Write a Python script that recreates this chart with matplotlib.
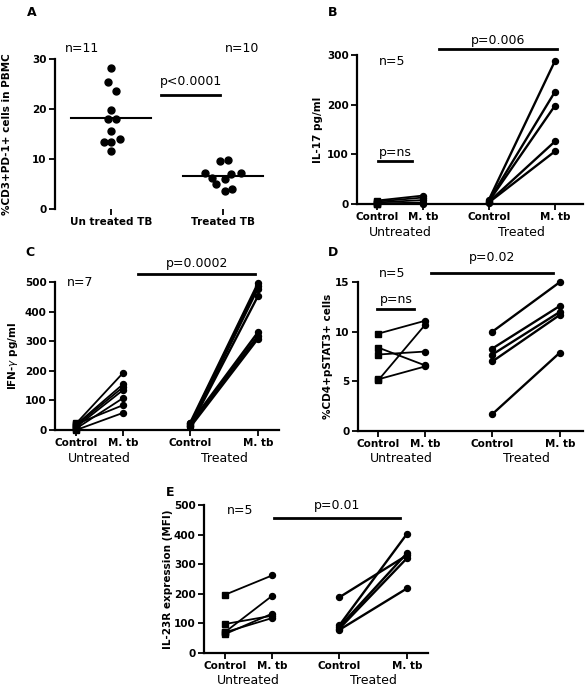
import numpy as np
import matplotlib
matplotlib.use("Agg")
import matplotlib.pyplot as plt

# ---- data ----
# A: %CD3+PD-1+ cells
a_groups = ["Un treated TB", "Treated TB"]
a_untreated = [28.2, 25.5, 23.7, 19.8, 18.0, 18.0, 15.7, 14.0, 13.5, 13.5, 11.6]
a_untreated_dx = [0.0, -0.09, 0.15, 0.0, -0.09, 0.15, 0.0, 0.27, -0.2, 0.0, 0.0]
a_treated = [9.6, 9.8, 7.3, 7.0, 7.3, 6.2, 5.1, 6.0, 3.7, 4.0]
a_treated_dx = [-0.09, 0.15, -0.54, 0.25, 0.52, -0.33, -0.2, 0.05, 0.05, 0.27]
a_median = [18.3, 6.7]

# B: IL-17 pg/ml (n=5)
b_ctrl_u = [7, 5, 3, 1, 0]
b_mtb_u = [17, 13, 8, 3, 1]
b_ctrl_t = [8, 6, 5, 4, 3]
b_mtb_t = [288, 226, 198, 126, 106]

# C: IFN-gamma pg/ml (n=7)
c_ctrl_u = [22, 18, 15, 10, 5, 20, 0]
c_mtb_u = [193, 155, 145, 135, 108, 84, 58]
c_ctrl_t = [25, 20, 15, 12, 22, 18, 10]
c_mtb_t = [495, 488, 478, 452, 330, 318, 308]

# D: %CD4+pSTAT3+ cells (n=5)
d_ctrl_u = [9.8, 8.4, 7.7, 5.1, 5.2]
d_mtb_u = [11.1, 6.6, 8.0, 10.7, 6.5]
d_ctrl_t = [10.0, 8.3, 7.7, 7.0, 1.7]
d_mtb_t = [15.0, 12.6, 12.0, 11.7, 7.9]

# E: IL-23R expression (MFI) (n=5)
e_ctrl_u = [197, 98, 71, 64, 70]
e_mtb_u = [262, 126, 193, 133, 118]
e_ctrl_t = [188, 93, 88, 82, 78]
e_mtb_t = [330, 402, 337, 320, 218]

pair_ticks = ["Control", "M. tb", "Control", "M. tb"]
pair_groups = ["Untreated", "Treated"]
pos = [0, 1, 2.43, 3.87]

W, H = 587, 696
fig = plt.figure(figsize=(W / 100, H / 100), dpi=100)


def box(l, t, r, b):
    return [l / W, 1 - b / H, (r - l) / W, (b - t) / H]


def style(ax, ylabel, label_px, left_px, width_px):
    for s in ["top", "right"]:
        ax.spines[s].set_visible(False)
    for s in ["left", "bottom"]:
        ax.spines[s].set_linewidth(1.6)
    ax.tick_params(width=1.3, length=4, labelsize=7.5, pad=2)
    for lab in ax.get_xticklabels() + ax.get_yticklabels():
        lab.set_fontweight("bold")
    ax.set_ylabel(ylabel, fontsize=7.5, fontweight="bold")
    ax.yaxis.set_label_coords((label_px - left_px) / width_px, 0.5)


def paired(ax, cu, mu, ct, mt, square_ctrl=True):
    for a, b in zip(cu, mu):
        ax.plot([pos[0], pos[1]], [a, b], color="k", lw=1.3, clip_on=False)
    for a, b in zip(ct, mt):
        ax.plot([pos[2], pos[3]], [a, b], color="k", lw=1.7, clip_on=False)
    ax.plot([pos[0]] * len(cu), cu, "s" if square_ctrl else "o", color="k", ms=4.3, clip_on=False)
    ax.plot([pos[1]] * len(mu), mu, "o", color="k", ms=4.3, clip_on=False)
    ax.plot([pos[2]] * len(ct), ct, "o", color="k", ms=4.3, clip_on=False)
    ax.plot([pos[3]] * len(mt), mt, "o", color="k", ms=4.3, clip_on=False)
    ax.set_xticks(pos)
    ax.set_xticklabels(pair_ticks)
    for i, g in enumerate(pair_groups):
        ax.annotate(g, xy=((pos[2 * i] + pos[2 * i + 1]) / 2, 0),
                    xycoords=("data", "axes fraction"), xytext=(0, -28),
                    textcoords="offset pixels", ha="center", va="center", fontsize=9)


def bar(ax, x0, x1, y, text, ty):
    ax.plot([x0, x1], [y, y], color="k", lw=2, clip_on=False)
    ax.text((x0 + x1) / 2, ty, text, ha="center", va="center", fontsize=9, clip_on=False)


# ---- Panel A ----
ax = fig.add_axes(box(55, 59, 278, 209))
ax.plot(np.array(a_untreated_dx) * 0.3, a_untreated, "o", color="k", ms=5, clip_on=False)
ax.plot(1 + np.array(a_treated_dx) * 0.3, a_treated, "o", color="k", ms=5, clip_on=False)
for i, m in enumerate(a_median):
    ax.plot([i - 0.36, i + 0.36], [m, m], color="k", lw=1.5)
ax.set_xlim(-0.5, 1.49)
ax.set_ylim(0, 30)
ax.set_yticks([0, 10, 20, 30])
ax.set_xticks([0, 1])
ax.set_xticklabels(a_groups)
style(ax, "%CD3+PD-1+ cells in PBMC", 12, 55, 223)
ax.spines["bottom"].set_visible(False)
bar(ax, 0.45, 0.97, 22.8, "p<0.0001", 25.6)
ax.text(-0.26, 32.1, "n=11", ha="center", va="center", fontsize=9, clip_on=False)
ax.text(1.17, 32.1, "n=10", ha="center", va="center", fontsize=9, clip_on=False)

# ---- Panel B ----
ax = fig.add_axes(box(357, 55, 583, 204))
paired(ax, b_ctrl_u, b_mtb_u, b_ctrl_t, b_mtb_t)
ax.set_xlim(-0.435, 4.48)
ax.set_ylim(0, 300)
ax.set_yticks([0, 100, 200, 300])
style(ax, "IL-17 pg/ml", 323, 357, 226)
bar(ax, 0.02, 0.76, 86, "p=ns", 104)
bar(ax, 1.35, 3.91, 312, "p=0.006", 330)
ax.text(0.33, 286, "n=5", ha="center", va="center", fontsize=9)

# ---- Panel C ----
ax = fig.add_axes(box(55, 282, 279, 430))
paired(ax, c_ctrl_u, c_mtb_u, c_ctrl_t, c_mtb_t)
ax.set_xlim(-0.45, 4.32)
ax.set_ylim(0, 500)
ax.set_yticks([0, 100, 200, 300, 400, 500])
style(ax, "IFN-$\\gamma$ pg/ml", 20, 55, 224)
bar(ax, 1.32, 3.81, 527, "p=0.0002", 564)
ax.text(0.09, 500, "n=7", ha="center", va="center", fontsize=9)

# ---- Panel D ----
ax = fig.add_axes(box(358, 282, 583, 431))
paired(ax, d_ctrl_u, d_mtb_u, d_ctrl_t, d_mtb_t)
ax.set_xlim(-0.43, 4.36)
ax.set_ylim(0, 15)
ax.set_yticks([0, 5, 10, 15])
style(ax, "%CD4+pSTAT3+ cells", 333, 358, 225)
bar(ax, -0.02, 0.77, 12.3, "p=ns", 13.2)
bar(ax, 1.13, 3.72, 15.9, "p=0.02", 17.5)
ax.text(0.3, 15.9, "n=5", ha="center", va="center", fontsize=9)

# ---- Panel E ----
ax = fig.add_axes(box(204, 505, 428, 653))
paired(ax, e_ctrl_u, e_mtb_u, e_ctrl_t, e_mtb_t)
ax.set_xlim(-0.45, 4.32)
ax.set_ylim(0, 500)
ax.set_yticks([0, 100, 200, 300, 400, 500])
style(ax, "IL-23R expression (MFI)", 173, 204, 224)
bar(ax, 1.04, 3.72, 456, "p=0.01", 500)
ax.text(0.32, 480, "n=5", ha="center", va="center", fontsize=9)

# panel letters
for letter, (x, y) in zip("ABCDE", [(32, 12), (333, 12), (30, 253), (333, 253), (170, 492)]):
    fig.text(x / W, 1 - y / H, letter, fontsize=9, fontweight="bold", ha="center", va="center")

fig.savefig("out.png", dpi=100)
